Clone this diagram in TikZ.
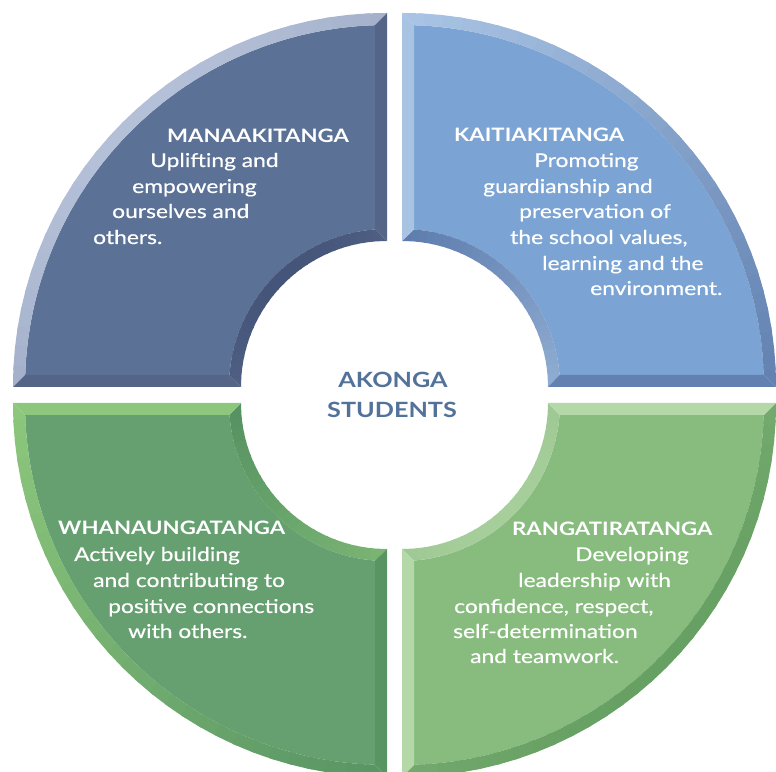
\documentclass[tikz,border=0pt]{standalone}
\usepackage{fontspec}
\setmainfont{Lato}[FakeStretch=1.2]
\newfontfamily\bodyfont{Lato}[FakeStretch=1.2, FakeBold=0.5]
\definecolor{tlbase}{HTML}{5B7296}
\definecolor{tllight}{HTML}{B4C0D8}
\definecolor{tldark}{HTML}{45557A}
\definecolor{trbase}{HTML}{7BA4D4}
\definecolor{trlight}{HTML}{B8D2EE}
\definecolor{trdark}{HTML}{5373A6}
\definecolor{blbase}{HTML}{66A071}
\definecolor{bllight}{HTML}{98D282}
\definecolor{bldark}{HTML}{4E8A5E}
\definecolor{brbase}{HTML}{87BC7E}
\definecolor{brlight}{HTML}{C2E2B4}
\definecolor{brdark}{HTML}{66A062}
\definecolor{centre}{HTML}{52729A}
\tikzset{
  head/.style={anchor=base west, inner sep=0pt, text=white, font=\bfseries\fontsize{18.5}{22}\selectfont},
  body/.style={anchor=base west, inner sep=0pt, text=white, font=\bodyfont\fontsize{19}{22}\selectfont},
  mid/.style={anchor=base, inner sep=0pt, text=centre, font=\bfseries\fontsize{21}{25}\selectfont}
}
% #1 cx, #2 cy, #3 start angle, #4 base, #5 light, #6 dark
\newcommand\quadr[6]{%
  \begin{scope}[shift={(#1,#2)}]
    \pgfmathsetmacro\aA{#3}
    \pgfmathsetmacro\aB{#3+90}
    \pgfmathsetmacro\aAo{#3+1.9}
    \pgfmathsetmacro\aBo{#3+88.1}
    \pgfmathsetmacro\aAi{#3+4.356}
    \pgfmathsetmacro\aBi{#3+85.644}
    % face
    \fill[#4] (\aAo:362) arc[start angle=\aAo, end angle=\aBo, radius=362]
      -- (\aBi:158) arc[start angle=\aBi, end angle=\aAi, radius=158] -- cycle;
    % outer band
    \begin{scope}
      \clip (\aA:374) arc[start angle=\aA, end angle=\aB, radius=374]
        -- (\aBo:362) arc[start angle=\aBo, end angle=\aAo, radius=362] -- cycle;
      \foreach \k in {0,...,29} {
        \pgfmathsetmacro\ta{\aA+3*\k-0.4}
        \pgfmathsetmacro\tb{\aA+3*\k+3.4}
        \pgfmathsetmacro\p{50*(1+cos(\aA+3*\k+1.5-135))}
        \fill[#5!\p!#6] (0,0) -- (\ta:395) -- (\tb:395) -- cycle;
      }
    \end{scope}
    % inner band
    \begin{scope}
      \clip (\aA:146) arc[start angle=\aA, end angle=\aB, radius=146]
        -- (\aBi:158) arc[start angle=\aBi, end angle=\aAi, radius=158] -- cycle;
      \foreach \k in {0,...,29} {
        \pgfmathsetmacro\ta{\aA+3*\k-0.4}
        \pgfmathsetmacro\tb{\aA+3*\k+3.4}
        \pgfmathsetmacro\p{35*(1+cos(\aA+3*\k+1.5+45))}
        \fill[#5!\p!#6] (0,0) -- (\ta:170) -- (\tb:170) -- cycle;
      }
    \end{scope}
    % straight edge bands
    \pgfmathsetmacro\pA{50*(1+cos(\aA-225))}
    \pgfmathsetmacro\pB{50*(1+cos(\aA+45))}
    \fill[#5!\pA!#6] (\aA:146) -- (\aA:374) -- (\aAo:362) -- (\aAi:158) -- cycle;
    \fill[#5!\pB!#6] (\aB:146) -- (\aB:374) -- (\aBo:362) -- (\aBi:158) -- cycle;
  \end{scope}}
\begin{document}
\begin{tikzpicture}[x=1pt,y=1pt]
  \useasboundingbox (0,0) rectangle (776,771);
  \begin{scope}
    \clip (0,0) rectangle (776,771);
    \quadr{387}{384}{90}{tlbase}{tllight}{tldark}
    \quadr{402}{384}{0}{trbase}{trlight}{trdark}
    \quadr{387}{368}{180}{blbase}{bllight}{bldark}
    \quadr{402}{368}{270}{brbase}{brlight}{brdark}
  \end{scope}
  % top-left
  \node[head] (mh) at (167,628) {MANAAKITANGA};
  \node[body] (m1) at (150,604) {Uplifting and};
  \node[body] (m2) at (132,578) {empowering};
  \node[body] (m3) at (112,553) {ourselves and};
  \node[body] (m4) at (93,527) {others.};
  % top-right
  \node[head] (kh) at (454,629) {KAITIAKITANGA};
  \node[body] (k1) at (534,604) {Promoting};
  \node[body] (k2) at (483,578) {guardianship and};
  \node[body] (k3) at (519,553) {preservation of};
  \node[body] (k4) at (510,527) {the school values,};
  \node[body] (k5) at (542,501) {learning and the};
  \node[body] (k6) at (590,476) {environment.};
  % bottom-left
  \node[head] (wh) at (58,236) {WHANAUNGATANGA};
  \node[body] (w1) at (74,210) {Actively building};
  \node[body] (w2) at (93,184) {and contributing to};
  \node[body] (w3) at (108,158) {positive connections};
  \node[body] (w4) at (128,133) {with others.};
  % bottom-right
  \node[head] (rh) at (512,235) {RANGATIRATANGA};
  \node[body] (r1) at (575,210) {Developing};
  \node[body] (r2) at (518,184) {leadership with};
  \node[body] (r3) at (454,158) {confidence, respect,};
  \node[body] (r4) at (453,133) {self-determination};
  \node[body] (r5) at (470,108) {and teamwork.};
  % centre
  \node[mid] (c1) at (393,383) {AKONGA};
  \node[mid] (c2) at (392,353) {STUDENTS};
\end{tikzpicture}
\end{document}
